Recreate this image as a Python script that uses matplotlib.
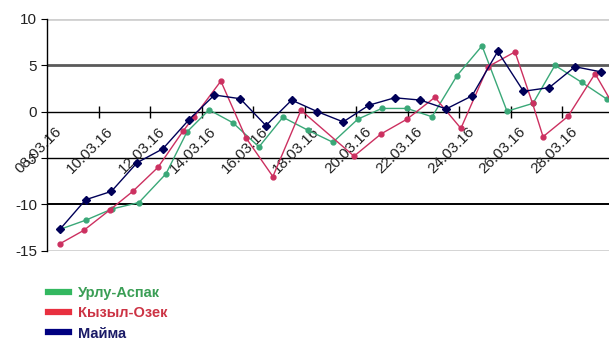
import matplotlib
matplotlib.use('Agg')
import matplotlib.pyplot as plt
import matplotlib.transforms as mtransforms
from matplotlib.lines import Line2D

plt.rcParams['font.family'] = ['Liberation Sans', 'DejaVu Sans']
plt.rcParams['axes.unicode_minus'] = False

# day offsets from 08.03.16
urlu_x = [0, 1.01, 2.02, 3.07, 4.12, 4.93, 5.79, 6.72, 7.73, 8.66, 9.63, 10.6,
          11.57, 12.5, 13.48, 14.45, 15.42, 16.39, 17.36, 18.37, 19.22, 20.27, 21.24]
urlu_y = [-12.7, -11.7, -10.5, -9.8, -6.7, -2.2, 0.2, -1.2, -3.8, -0.6, -2.0, -3.3,
          -0.8, 0.35, 0.35, -0.55, 3.9, 7.1, 0.05, 0.9, 5.0, 3.15, 1.35]

kyzyl_x = [0, 0.93, 1.94, 2.83, 3.81, 4.78, 5.2, 6.25, 7.22, 8.27, 9.36, 11.42,
           12.47, 13.48, 14.56, 15.57, 16.62, 17.67, 18.35, 18.76, 19.73, 20.78, 21.8]
kyzyl_y = [-14.25, -12.8, -10.6, -8.6, -6.0, -2.1, -0.6, 3.3, -2.8, -7.0, 0.15, -4.8,
           -2.4, -0.8, 1.55, -1.8, 4.85, 6.45, 0.9, -2.7, -0.5, 4.1, -0.8]

mayma_x = list(range(22))
mayma_y = [-12.7, -9.5, -8.6, -5.5, -4.0, -0.9, 1.8, 1.4, -1.5, 1.25, 0.0, -1.1,
           0.7, 1.5, 1.25, 0.3, 1.7, 6.5, 2.2, 2.6, 4.85, 4.3]

date_labels = ['08.03.16', '10.03.16', '12.03.16', '14.03.16', '16.03.16', '18.03.16',
               '20.03.16', '22.03.16', '24.03.16', '26.03.16', '28.03.16']
label_pos = [0, 2, 4, 6, 8, 10, 12, 14, 16, 18, 20]
y_ticks = [10, 5, 0, -5, -10, -15]

fig = plt.figure(figsize=(6.09, 3.43), dpi=100, facecolor='white')
ax = fig.add_axes([47 / 609, 1 - 250.7 / 343, 1 - 47 / 609, (250.7 - 19) / 343])

# horizontal lines
ax.axhline(10, color='#d0d0d0', lw=2, zorder=1)
ax.axhline(5, color='#5a5a5a', lw=2, zorder=1)
ax.axhline(-5, color='black', lw=1, zorder=1)
ax.axhline(-10, color='black', lw=1.4, zorder=1)
ax.axhline(-15, color='#d0d0d0', lw=2, zorder=1)

ax.plot(urlu_x, urlu_y, color='#3aa878', lw=1, marker='o', ms=3.5, zorder=3)
ax.plot(kyzyl_x, kyzyl_y, color='#cc3060', lw=1, marker='o', ms=3.5, zorder=3)
ax.plot(mayma_x, mayma_y, color='#000058', lw=1, marker='D', ms=4.5, zorder=4)

ax.set_xlim(-0.5, 21.32)
ax.set_ylim(-15, 10)

ax.spines['top'].set_visible(False)
ax.spines['right'].set_visible(False)
ax.spines['bottom'].set_position(('data', 0))
ax.spines['bottom'].set_linewidth(1)
ax.spines['left'].set_linewidth(1)

ax.set_yticks(y_ticks)
ax.tick_params(axis='y', direction='out', length=4, labelsize=11, labelcolor='#222222', pad=3)

ax.set_xticks(label_pos)
ax.set_xticklabels(date_labels, rotation=45, ha='right', rotation_mode='anchor')
ax.tick_params(axis='x', which='major', length=0, labelsize=11, labelcolor='#222222', pad=9)
# nudge the date labels a little left, like the original
shift = mtransforms.ScaledTranslation(-5 / 100, 0, fig.dpi_scale_trans)
for lab in ax.get_xticklabels():
    lab.set_transform(lab.get_transform() + shift)
ax.set_xticks([1.5 + 2 * k for k in range(10)], minor=True)
ax.tick_params(axis='x', which='minor', direction='inout', length=9, width=1)

# legend
handles = [Line2D([], [], color='#33b860', lw=4.5),
           Line2D([], [], color='#e83040', lw=4.5),
           Line2D([], [], color='#000080', lw=4.5)]
names = ['Урлу-Аспак', 'Кызыл-Озек', 'Майма']
leg = fig.legend(handles, names, loc='upper left', bbox_to_anchor=(41 / 609, 1 - 279 / 343),
                 frameon=False, borderpad=0, handlelength=1.45, handletextpad=0.6,
                 labelspacing=0.42, prop={'size': 10.5, 'weight': 'bold'})
for txt, c in zip(leg.get_texts(), ['#3a9e55', '#cc3344', '#1a1a66']):
    txt.set_color(c)

fig.savefig('out.png', dpi=100, facecolor='white')
